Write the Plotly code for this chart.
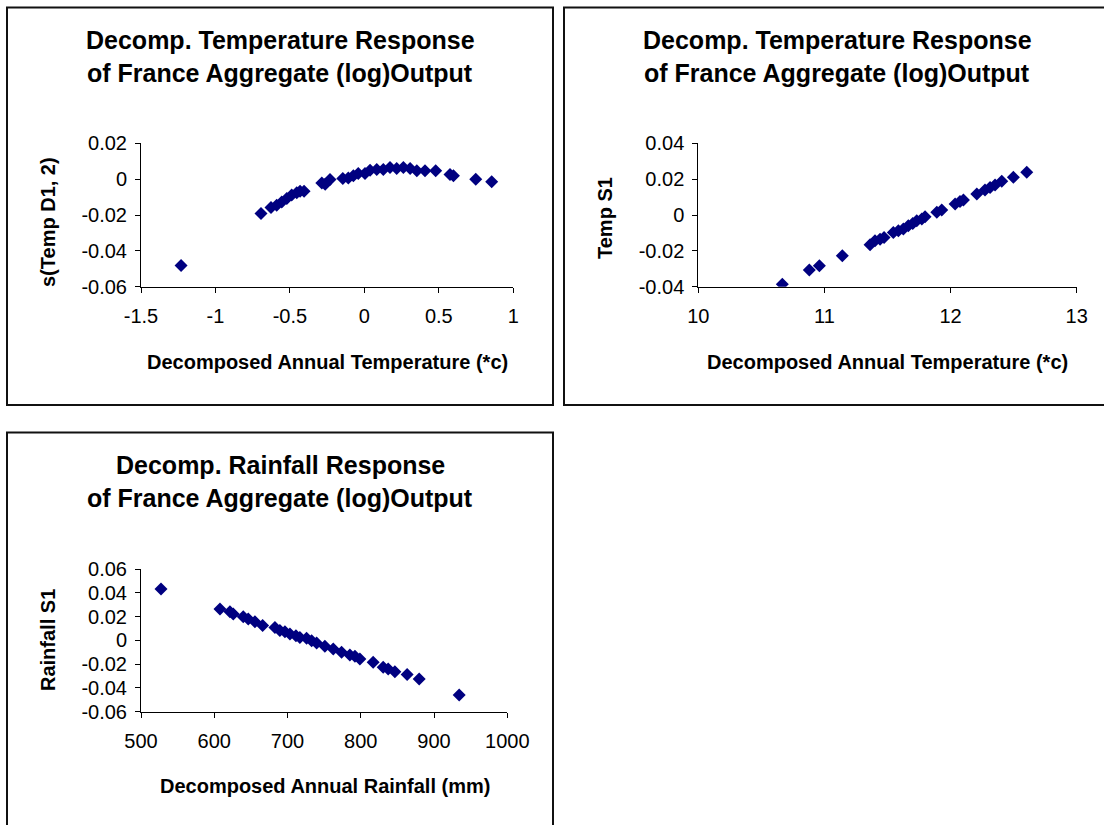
import plotly.graph_objects as go

W, H = 1104, 825
def fx(px): return px / W
def fy(py): return 1 - py / H

# ---------------- data ----------------
temp_d1_x = [-1.231, -0.694, -0.627, -0.589, -0.555, -0.521, -0.488, -0.454, -0.432, -0.405,
             -0.286, -0.263, -0.231, -0.145, -0.108, -0.074, -0.041, 0.004, 0.038, 0.083,
             0.127, 0.172, 0.217, 0.262, 0.307, 0.352, 0.407, 0.479, 0.575, 0.598, 0.748, 0.855]
temp_d1_s = [-0.0482, -0.0192, -0.0158, -0.0145, -0.0127, -0.0108, -0.0089, -0.0076, -0.0067, -0.0067,
             -0.0021, -0.0028, -0.0002, 0.0004, 0.0007, 0.0019, 0.0032, 0.0032, 0.0050, 0.0054,
             0.0054, 0.0065, 0.0060, 0.0065, 0.0060, 0.0047, 0.0047, 0.0047, 0.0026, 0.0019, 0.0000, -0.0015]

temp_x = [10.666, 10.880, 10.960, 11.142, 11.362, 11.401, 11.441, 11.473, 11.546, 11.586,
          11.626, 11.665, 11.700, 11.732, 11.772, 11.798, 11.891, 11.930, 12.036, 12.075,
          12.102, 12.208, 12.273, 12.313, 12.353, 12.406, 12.498, 12.604]
temp_s1 = [-0.0386, -0.0307, -0.0283, -0.0227, -0.0166, -0.0144, -0.0135, -0.0125, -0.0097, -0.0088,
           -0.0078, -0.0060, -0.0047, -0.0032, -0.0022, -0.0010, 0.0015, 0.0028, 0.0061, 0.0076,
           0.0084, 0.0117, 0.0140, 0.0154, 0.0168, 0.0188, 0.0210, 0.0238]

rain_x = [527.3, 607.8, 621.4, 625.9, 639.6, 646.4, 655.5, 666.0, 682.8, 689.6,
          696.5, 703.3, 711.5, 716.9, 726.0, 732.9, 739.7, 751.0, 762.4, 773.8,
          785.1, 792.0, 798.8, 816.9, 830.6, 837.4, 846.5, 863.3, 879.7, 934.3]
rain_s1 = [0.0432, 0.0264, 0.0241, 0.0222, 0.0199, 0.0180, 0.0157, 0.0124, 0.0109, 0.0082,
           0.0073, 0.0054, 0.0039, 0.0025, 0.0017, -0.0003, -0.0022, -0.0050, -0.0073, -0.0101,
           -0.0123, -0.0134, -0.0157, -0.0185, -0.0227, -0.0240, -0.0263, -0.0288, -0.0324, -0.0459]

p1_xticks = [-1.5, -1, -0.5, 0, 0.5, 1]
p1_xtext = ["-1.5", "-1", "-0.5", "0", "0.5", "1"]
p1_yticks = [-0.06, -0.04, -0.02, 0, 0.02]
p1_ytext = ["-0.06", "-0.04", "-0.02", "0", "0.02"]
p2_xticks = [10, 11, 12, 13]
p2_xtext = ["10", "11", "12", "13"]
p2_yticks = [-0.04, -0.02, 0, 0.02, 0.04]
p2_ytext = ["-0.04", "-0.02", "0", "0.02", "0.04"]
p3_xticks = [500, 600, 700, 800, 900, 1000]
p3_xtext = ["500", "600", "700", "800", "900", "1000"]
p3_yticks = [-0.06, -0.04, -0.02, 0, 0.02, 0.04, 0.06]
p3_ytext = ["-0.06", "-0.04", "-0.02", "0", "0.02", "0.04", "0.06"]

title_temp = ["Decomp. Temperature Response", "of France Aggregate (log)Output"]
title_rain = ["Decomp. Rainfall Response", "of France Aggregate (log)Output"]

FONT = "Arial, Liberation Sans, sans-serif"
NAVY = "#000080"
marker = dict(symbol="diamond", size=10, color=NAVY, line=dict(width=0))

fig = go.Figure()
fig.add_trace(go.Scatter(x=temp_d1_x, y=temp_d1_s, mode="markers", marker=marker, xaxis="x", yaxis="y"))
fig.add_trace(go.Scatter(x=temp_x, y=temp_s1, mode="markers", marker=marker, xaxis="x2", yaxis="y2"))
fig.add_trace(go.Scatter(x=rain_x, y=rain_s1, mode="markers", marker=marker, xaxis="x3", yaxis="y3"))

tickfont = dict(family=FONT, size=20, color="black")

def xax(dom, rng, tv, tt, anchor):
    return dict(domain=dom, range=rng, anchor=anchor, tickvals=tv, ticktext=tt,
                showline=True, linecolor="black", linewidth=1, ticks="outside", ticklen=5,
                tickcolor="black", tickwidth=1, showgrid=False, zeroline=False,
                tickfont=tickfont, ticklabelstandoff=6, automargin=False)

def yax(dom, rng, tv, tt, anchor):
    return dict(domain=dom, range=rng, anchor=anchor, tickvals=tv, ticktext=tt,
                showline=True, linecolor="black", linewidth=1, ticks="outside", ticklen=5,
                tickcolor="black", tickwidth=1, showgrid=False, zeroline=False,
                tickfont=tickfont, ticklabelstandoff=4, automargin=False)

def over(base, dom, rng, tv, anchor):
    return dict(overlaying=base, domain=dom, range=rng, anchor=anchor, tickvals=tv,
                showticklabels=False, showline=False, ticks="inside", ticklen=5,
                tickcolor="black", tickwidth=1, showgrid=False, zeroline=False,
                automargin=False)

d1x = [fx(141), fx(513.3)]; d1y = [fy(286.7), fy(143.3)]
d2x = [fx(698.3), fx(1076.7)]; d2y = [fy(286.7), fy(143.3)]
d3x = [fx(141), fx(507.3)]; d3y = [fy(711.7), fy(569)]

r1x = [p1_xticks[0], p1_xticks[-1]]; r1y = [p1_yticks[0], p1_yticks[-1]]
r2x = [p2_xticks[0], p2_xticks[-1]]; r2y = [p2_yticks[0], p2_yticks[-1]]
r3x = [p3_xticks[0], p3_xticks[-1]]; r3y = [p3_yticks[0], p3_yticks[-1]]

layout = dict(
    width=W, height=H, margin=dict(l=0, r=0, t=0, b=0, pad=0, autoexpand=False),
    paper_bgcolor="white", plot_bgcolor="white", showlegend=False,
    font=dict(family=FONT, color="black"),
    xaxis=xax(d1x, r1x, p1_xticks, p1_xtext, "y"),
    yaxis=yax(d1y, r1y, p1_yticks, p1_ytext, "x"),
    xaxis2=xax(d2x, r2x, p2_xticks, p2_xtext, "y2"),
    yaxis2=yax(d2y, r2y, p2_yticks, p2_ytext, "x2"),
    xaxis3=xax(d3x, r3x, p3_xticks, p3_xtext, "y3"),
    yaxis3=yax(d3y, r3y, p3_yticks, p3_ytext, "x3"),
    xaxis4=over("x", d1x, r1x, p1_xticks, "y"),
    yaxis4=over("y", d1y, r1y, p1_yticks, "x"),
    xaxis5=over("x2", d2x, r2x, p2_xticks, "y2"),
    yaxis5=over("y2", d2y, r2y, p2_yticks, "x2"),
    xaxis6=over("x3", d3x, r3x, p3_xticks, "y3"),
    yaxis6=over("y3", d3y, r3y, p3_yticks, "x3"),
)
fig.update_layout(**layout)

# frames around each chart
frame = dict(color="#111111", width=2)
for (x0, y0, x1, y1) in [(7, 7.5, 553, 405), (564, 7.5, 1112, 405), (7, 432.5, 553, 832)]:
    fig.add_shape(type="rect", xref="paper", yref="paper", x0=fx(x0), x1=fx(x1),
                  y0=fy(y1), y1=fy(y0), line=frame, fillcolor="rgba(0,0,0,0)", layer="below")

def ann(text, px, py, size, angle=0):
    fig.add_annotation(text=text, x=fx(px), y=fy(py), xref="paper", yref="paper",
                       showarrow=False, xanchor="center", yanchor="middle", textangle=angle,
                       font=dict(family=FONT, size=size, color="black"))

for cx, cy, lines in [(280, 40, title_temp), (837, 40, title_temp), (280, 465, title_rain)]:
    ann("<b>" + lines[0] + "</b>", cx, cy, 25)
    ann("<b>" + lines[1] + "</b>", cx, cy + 33, 25)

ann("<b>Decomposed Annual Temperature (*c)</b>", 327, 362, 20)
ann("<b>Decomposed Annual Temperature (*c)</b>", 887, 362, 20)
ann("<b>Decomposed Annual Rainfall (mm)</b>", 325, 786, 20)
ann("<b>s(Temp D1, 2)</b>", 48, 222, 20, -90)
ann("<b>Temp S1</b>", 605, 218, 20, -90)
ann("<b>Rainfall S1</b>", 48, 640, 20, -90)

fig.write_html("out.html")
